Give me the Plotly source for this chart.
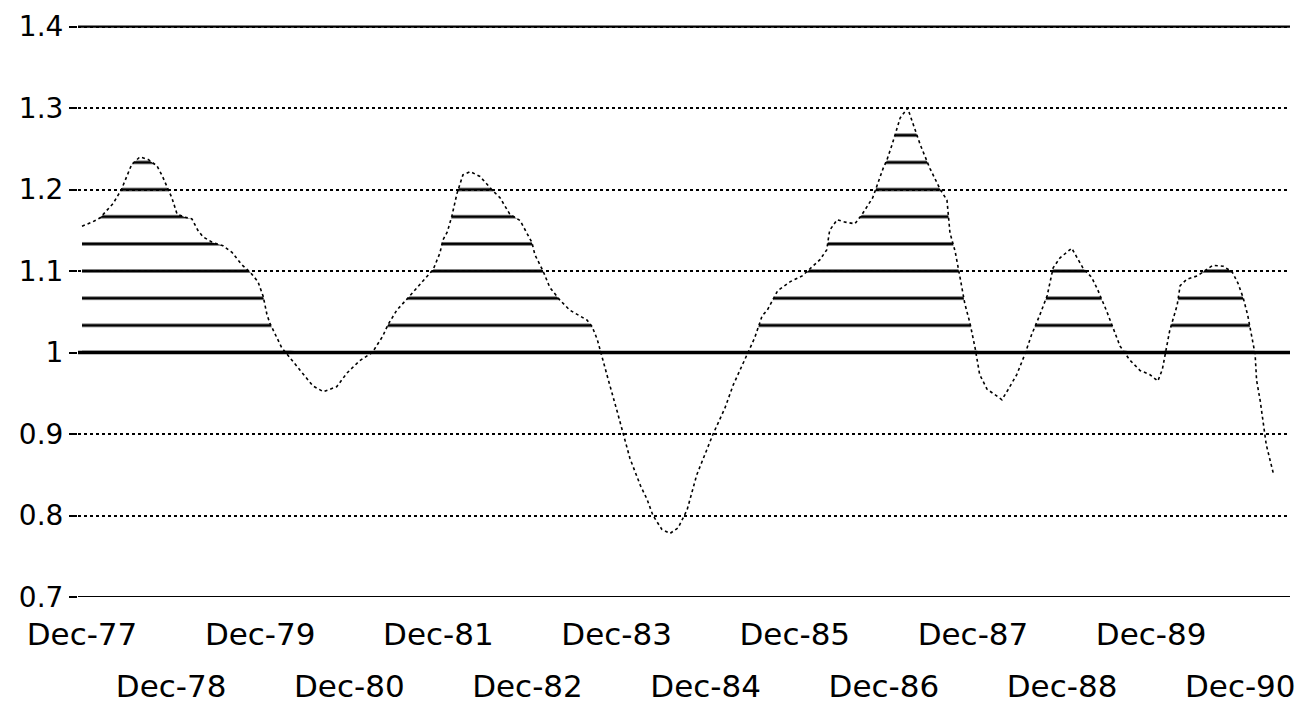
import numpy as np
import plotly.graph_objects as go

# months since Dec-77
MONTHS = [0.0, 1.35, 2.4, 4.2, 5.3, 6.7, 7.8, 8.9, 10.1, 10.8, 12.1, 12.8, 13.9, 14.8, 15.6, 16.3, 17.6,
          19.0, 20.2, 21.5, 22.6, 23.7, 24.4, 24.9, 25.3, 26.3, 26.9, 29.4, 31.1, 32.5, 34.3, 35.7,
          37.4, 39.1, 40.5, 41.2, 42.4, 43.8, 45.5, 47.3, 48.2, 48.6, 49.2, 49.8, 50.5, 51.3, 52.3,
          53.6, 55.4, 56.3, 57.6, 59.0, 60.6, 61.0, 62.1, 63.0, 64.4, 65.7, 68.0, 68.7, 69.4, 70.0,
          70.9, 72.1, 72.9, 73.8, 75.2, 76.1, 76.9, 78.1, 79.2, 80.3, 81.5, 82.8, 83.9, 85.0, 86.6,
          87.7, 88.6, 89.7, 90.6, 91.6, 92.3, 93.7, 95.4, 97.0, 98.0, 99.4, 100.3, 100.7, 101.7,
          102.8, 104.1, 105.1, 106.5, 107.9, 108.4, 109.1, 110.2, 111.2, 112.9, 114.2, 115.6,
          116.5, 116.9, 117.6, 118.3, 118.9, 119.6, 120.3, 120.9, 121.9, 123.0, 123.9, 124.7,
          125.9, 127.0, 127.9, 129.0, 130.0, 130.8, 131.7, 133.3, 134.8, 136.0, 136.8, 138.0,
          138.9, 139.8, 141.1, 142.5, 143.8, 144.9, 145.5, 146.1, 146.5, 147.5, 147.9, 148.8,
          150.2, 151.0, 152.3, 153.7, 154.9, 155.7, 156.4, 157.0, 157.6, 158.0, 158.2, 158.7,
          159.5, 160.5]
VALUES = [1.155, 1.16, 1.165, 1.183, 1.2, 1.231, 1.24, 1.237, 1.229, 1.217, 1.19, 1.17, 1.166, 1.164,
          1.15, 1.142, 1.135, 1.131, 1.123, 1.108, 1.099, 1.087, 1.069, 1.047, 1.036, 1.018, 1.006,
          0.978, 0.959, 0.952, 0.958, 0.975, 0.99, 1.0, 1.02, 1.034, 1.052, 1.066, 1.084, 1.102,
          1.122, 1.138, 1.148, 1.167, 1.195, 1.218, 1.222, 1.216, 1.198, 1.19, 1.17, 1.162, 1.135,
          1.12, 1.1, 1.08, 1.064, 1.052, 1.04, 1.032, 1.016, 0.997, 0.966, 0.927, 0.9, 0.87, 0.837,
          0.82, 0.8, 0.783, 0.778, 0.785, 0.807, 0.85, 0.875, 0.9, 0.932, 0.96, 0.978, 1.0, 1.018,
          1.045, 1.052, 1.076, 1.087, 1.094, 1.102, 1.114, 1.126, 1.15, 1.163, 1.16, 1.158, 1.17,
          1.19, 1.226, 1.236, 1.255, 1.288, 1.3, 1.255, 1.226, 1.2, 1.187, 1.147, 1.124, 1.09,
          1.06, 1.036, 1.005, 0.973, 0.955, 0.948, 0.942, 0.954, 0.973, 0.998, 1.022, 1.046, 1.07,
          1.104, 1.116, 1.128, 1.104, 1.092, 1.077, 1.051, 1.03, 1.008, 0.991, 0.978, 0.973,
          0.965, 0.979, 1.006, 1.027, 1.058, 1.082, 1.09, 1.094, 1.099, 1.107, 1.106, 1.099,
          1.085, 1.067, 1.046, 1.018, 0.998, 0.966, 0.94, 0.887, 0.85]

BASE = 1.0
Y_TICKS = [1.4, 1.3, 1.2, 1.1, 1.0, 0.9, 0.8, 0.7]
Y_TEXT = ["1.4", "1.3", "1.2", "1.1", "1", "0.9", "0.8", "0.7"]
X_TICKS_TOP = [0, 24, 48, 72, 96, 120, 144]
X_TEXT_TOP = ["Dec-77", "Dec-79", "Dec-81", "Dec-83", "Dec-85", "Dec-87", "Dec-89"]
X_TICKS_BOT = [12, 36, 60, 84, 108, 132, 156]
X_TEXT_BOT = ["Dec-78", "Dec-80", "Dec-82", "Dec-84", "Dec-86", "Dec-88", "Dec-90"]

W, H = 1316, 715
# page body adds an 8px offset; margins compensate so the plot sits where the reference has it
M_L, M_R, M_T, M_B = 70, 34, 5, 126
HATCH = 1 / 30
Y_RANGE = [0.7, 1.4 + HATCH / 2]
px_per_unit = (H - M_T - M_B) / (Y_RANGE[1] - Y_RANGE[0])
hatch_px = HATCH * px_per_unit

x = np.array(MONTHS)
y = np.array(VALUES)
above = np.maximum(y, BASE)

FONT = "DejaVu Sans"
fig = go.Figure()
fig.add_trace(go.Scatter(x=x, y=np.full_like(y, BASE), mode="lines",
                         line=dict(width=0, color="rgba(0,0,0,0)"), hoverinfo="skip",
                         showlegend=False))
fig.add_trace(go.Scatter(x=x, y=above, mode="lines", fill="tonexty",
                         fillcolor="rgba(0,0,0,0)",
                         fillpattern=dict(shape="-", size=hatch_px, solidity=0.11,
                                          fgcolor="black", fgopacity=1,
                                          bgcolor="rgba(0,0,0,0)"),
                         line=dict(width=0, color="rgba(0,0,0,0)"), hoverinfo="skip",
                         showlegend=False))
fig.add_trace(go.Scatter(x=x, y=y, mode="lines",
                         line=dict(color="black", width=1.6, dash="dot"),
                         showlegend=False))
# invisible trace to activate second x axis
fig.add_trace(go.Scatter(x=[x[0]], y=[y[0]], xaxis="x2", mode="markers",
                         marker=dict(opacity=0), hoverinfo="skip", showlegend=False))

for v in Y_TICKS:
    if v in (Y_TICKS[0], Y_TICKS[-1]):
        fig.add_shape(type="line", xref="paper", yref="y", x0=0, x1=1, y0=v, y1=v,
                      line=dict(color="black", width=2.2), layer="above")
    elif v == BASE:
        fig.add_shape(type="line", xref="paper", yref="y", x0=0, x1=1, y0=v, y1=v,
                      line=dict(color="black", width=3.5), layer="above")

x_range = [-0.54, 162.7]
fig.update_layout(
    width=W, height=H,
    margin=dict(l=M_L, r=M_R, t=M_T, b=M_B, autoexpand=False),
    paper_bgcolor="white", plot_bgcolor="white",
    font=dict(family=FONT, color="black"),
    xaxis=dict(range=x_range, tickmode="array", tickvals=X_TICKS_TOP, ticktext=X_TEXT_TOP,
               showgrid=False, zeroline=False, showline=False, ticks="", automargin=False,
               tickfont=dict(size=31, family=FONT), ticklabelstandoff=16),
    xaxis2=dict(range=x_range, overlaying="x", matches="x", anchor="y", side="bottom",
                tickmode="array", tickvals=X_TICKS_BOT, ticktext=X_TEXT_BOT, automargin=False,
                showgrid=False, zeroline=False, showline=False, ticks="",
                tickfont=dict(size=31, family=FONT), ticklabelstandoff=68),
    yaxis=dict(range=Y_RANGE, tickmode="array", tickvals=Y_TICKS, ticktext=Y_TEXT,
               showgrid=True, gridcolor="black", gridwidth=1.5, griddash="dot",
               zeroline=False, showline=False, ticks="outside", ticklen=8, tickwidth=2,
               automargin=False, tickcolor="black", tickfont=dict(size=28, family=FONT)),
)

fig.write_html("out.html")
